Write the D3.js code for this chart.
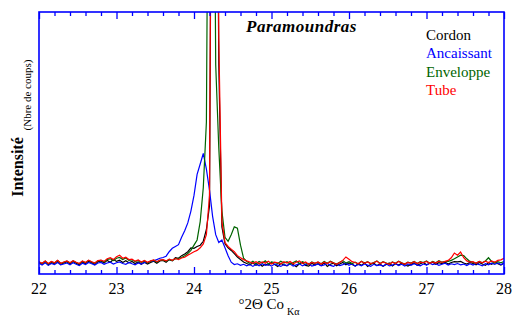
<!DOCTYPE html>
<html>
<head>
<meta charset="utf-8">
<script src="https://cdn.jsdelivr.net/npm/d3@7/dist/d3.min.js"></script>
<style>
  html, body { margin: 0; padding: 0; background: #fff; }
  svg { display: block; }
</style>
</head>
<body>
<svg id="chart" width="528" height="326"></svg>
<script>
// Diffractogram, 22–28 °2θ (Co Kα), step 0.04°
const angleStart = 22;
const angleStep = 0.04;
const xTickLabels = [22, 23, 24, 25, 26, 27, 28];
const seriesNames = ["Cordon", "Ancaissant", "Enveloppe", "Tube"];
const seriesColors = ["#000000", "#0000ff", "#006400", "#ff0000"];
const serif = "'Liberation Serif', 'Times New Roman', serif";

// counts per step
const cordon = [
  46, 37, 48, 35, 44, 39, 50, 36, 42, 47,
  38, 48, 41, 34, 46, 39, 49, 43, 36, 47,
  50, 42, 52, 45, 55, 48, 53, 44, 51, 43,
  48, 40, 46, 37, 45, 38, 44, 49, 41, 50,
  52, 45, 55, 50, 62, 60, 70, 76, 85, 100,
  98, 105, 110, 125, 170, 260, 2600, 2500, 800, 180,
  115, 100, 90, 78, 65, 55, 46, 40, 35, 42,
  33, 41, 30, 38, 34, 43, 36, 29, 40, 35,
  31, 42, 36, 28, 39, 44, 33, 30, 41, 34,
  39, 32, 43, 29, 37, 41, 31, 38, 44, 35,
  42, 36, 30, 40, 33, 43, 29, 37, 41, 32,
  38, 29, 36, 42, 31, 39, 34, 41, 35, 30,
  36, 42, 33, 39, 44, 35, 40, 45, 37, 43,
  40, 45, 38, 44, 47, 46, 48, 42, 38, 44,
  40, 35, 44, 38, 33, 43, 37, 45, 39, 34,
  42
];
const ancaissant = [
  41, 34, 43, 33, 40, 36, 44, 35, 38, 42,
  35, 43, 37, 32, 41, 36, 44, 39, 34, 42,
  44, 37, 42, 45, 38, 43, 46, 40, 37, 44,
  39, 35, 42, 38, 44, 43, 48, 50, 55, 60,
  63, 68, 85, 98, 105, 112, 140, 165, 195, 240,
  300, 380, 420, 460, 400, 320, 220, 150, 120, 130,
  100, 70, 45, 36, 39, 33, 37, 31, 36, 29,
  37, 31, 39, 33, 36, 30, 38, 34, 29, 36,
  32, 38, 30, 35, 39, 31, 36, 40, 30, 34,
  38, 31, 35, 40, 33, 29, 37, 32, 36, 41,
  33, 39, 30, 36, 31, 38, 34, 29, 37, 32,
  35, 30, 39, 31, 34, 40, 32, 37, 30, 38,
  33, 39, 35, 31, 38, 34, 41, 36, 39, 33,
  37, 41, 34, 39, 36, 40, 35, 38, 32, 39,
  34, 40, 36, 31, 39, 35, 41, 37, 42, 36,
  41
];
const enveloppe = [
  46, 40, 49, 38, 47, 42, 51, 40, 45, 49,
  42, 50, 44, 39, 49, 43, 52, 46, 41, 50,
  52, 46, 56, 58, 51, 60, 63, 55, 61, 52,
  54, 47, 52, 44, 50, 43, 48, 53, 46, 52,
  54, 48, 56, 51, 58, 60, 63, 70, 78, 90,
  110, 130, 200, 330, 580, 2500, 2600, 800, 480, 240,
  140, 125, 150, 180, 175, 110, 60, 48, 41, 49,
  39, 48, 42, 50, 38, 46, 44, 40, 49, 42,
  47, 38, 44, 50, 40, 47, 42, 37, 46, 41,
  45, 39, 48, 41, 49, 43, 38, 45, 51, 42,
  47, 40, 45, 38, 49, 42, 47, 39, 44, 50,
  40, 47, 42, 37, 46, 41, 49, 43, 38, 45,
  42, 48, 40, 47, 44, 50, 41, 48, 43, 51,
  45, 47, 48, 52, 58, 65, 72, 70, 58, 48,
  45, 41, 48, 43, 50, 62, 48, 42, 47, 43,
  47
];
const tube = [
  47, 41, 50, 40, 48, 43, 52, 41, 46, 50,
  43, 51, 45, 40, 50, 44, 53, 47, 42, 51,
  53, 48, 58, 62, 55, 66, 72, 60, 64, 55,
  57, 49, 54, 46, 52, 45, 50, 54, 47, 53,
  55, 50, 57, 52, 59, 55, 61, 64, 72, 78,
  85, 90, 100, 115, 150, 300, 2800, 2600, 900, 200,
  120, 105, 95, 85, 70, 62, 55, 50, 46, 41,
  47, 40, 46, 42, 49, 38, 45, 43, 39, 47,
  42, 48, 39, 45, 50, 40, 46, 37, 44, 41,
  46, 38, 45, 40, 47, 42, 37, 44, 52, 65,
  56, 47, 44, 39, 48, 41, 46, 40, 43, 49,
  39, 46, 41, 37, 45, 40, 48, 42, 38, 44,
  41, 47, 40, 45, 43, 48, 41, 46, 42, 49,
  44, 48, 52, 62, 80, 72, 84, 62, 50, 45,
  47, 41, 48, 43, 49, 44, 50, 45, 52, 54,
  60
];
const seriesValues = [cordon, ancaissant, enveloppe, tube];

const svg = d3.select("#chart");
const margin = { left: 39, right: 24, top: 12, bottom: 52 };
const W = 528, H = 326;
const plotW = W - margin.left - margin.right;
const plotH = H - margin.top - margin.bottom;

const x = d3.scaleLinear().domain([22, 28]).range([margin.left, margin.left + plotW]);
const y = d3.scaleLinear().domain([0, 1000]).range([margin.top + plotH, margin.top]);

const frameColor = "#0000ff";

svg.append("defs").append("clipPath").attr("id", "plotClip")
  .append("rect")
  .attr("x", margin.left).attr("y", margin.top)
  .attr("width", plotW).attr("height", plotH);

// traces
const line = d3.line()
  .x(d => x(d[0]))
  .y(d => y(d[1]));

const traces = svg.append("g").attr("clip-path", "url(#plotClip)");
seriesValues.forEach((vals, k) => {
  const pts = vals.map((v, i) => [angleStart + i * angleStep, v]);
  traces.append("path")
    .datum(pts)
    .attr("fill", "none")
    .attr("stroke", seriesColors[k])
    .attr("stroke-width", 1.2)
    .attr("d", line);
});

// inward ticks, bottom and top
const minorTicks = d3.range(0, 31).map(i => 22 + i * 0.2);
const bottomAxis = d3.axisTop(x).tickValues(minorTicks).tickSize(4).tickFormat("");
const gB = svg.append("g").attr("transform", `translate(0,${margin.top + plotH})`).call(bottomAxis);
const topAxis = d3.axisBottom(x).tickValues(minorTicks).tickSize(4).tickFormat("");
const gT = svg.append("g").attr("transform", `translate(0,${margin.top})`).call(topAxis);
[gB, gT].forEach(g => {
  g.select(".domain").remove();
  g.selectAll("line")
    .attr("stroke", frameColor)
    .attr("stroke-width", 1.3)
    .attr("y2", function(d) {
      const major = Math.abs(d - Math.round(d)) < 1e-6;
      const v = +d3.select(this).attr("y2");
      return major ? Math.sign(v) * 7 : v;
    });
});

// frame
svg.append("rect")
  .attr("x", margin.left).attr("y", margin.top)
  .attr("width", plotW).attr("height", plotH)
  .attr("fill", "none")
  .attr("stroke", frameColor)
  .attr("stroke-width", 1.6);

// tick labels
svg.append("g").selectAll("text")
  .data(xTickLabels)
  .join("text")
  .attr("x", d => x(d))
  .attr("y", margin.top + plotH + 20)
  .attr("text-anchor", "middle")
  .style("font-family", serif)
  .style("font-size", "16px")
  .attr("fill", "#000")
  .text(d => d);

// x axis title
const xt = svg.append("text")
  .attr("x", 269)
  .attr("y", 309)
  .attr("text-anchor", "middle")
  .style("font-family", serif)
  .style("font-size", "15px")
  .attr("fill", "#000");
xt.append("tspan").text("°2Θ Co");
xt.append("tspan").attr("dx", 3).attr("dy", 6).style("font-size", "10px").text("Kα");

// y axis title
svg.append("text")
  .attr("transform", "translate(23,167) rotate(-90)")
  .attr("text-anchor", "middle")
  .style("font-family", serif)
  .style("font-size", "16px")
  .style("font-weight", "bold")
  .attr("fill", "#000")
  .text("Intensité");
svg.append("text")
  .attr("transform", "translate(31,95) rotate(-90)")
  .attr("text-anchor", "middle")
  .style("font-family", serif)
  .style("font-size", "11px")
  .attr("fill", "#000")
  .text("(Nbre de coups)");

// title
svg.append("text")
  .attr("x", 246)
  .attr("y", 32)
  .style("font-family", serif)
  .style("font-size", "17px")
  .style("font-weight", "bold")
  .style("font-style", "italic")
  .style("letter-spacing", "0.5px")
  .attr("fill", "#000")
  .text("Paramoundras");

// legend
svg.append("g").selectAll("text")
  .data(seriesNames)
  .join("text")
  .attr("x", 426)
  .attr("y", (d, i) => 40 + i * 18.3)
  .style("font-family", serif)
  .style("font-size", "15px")
  .attr("fill", (d, i) => seriesColors[i])
  .text(d => d);
</script>
</body>
</html>
